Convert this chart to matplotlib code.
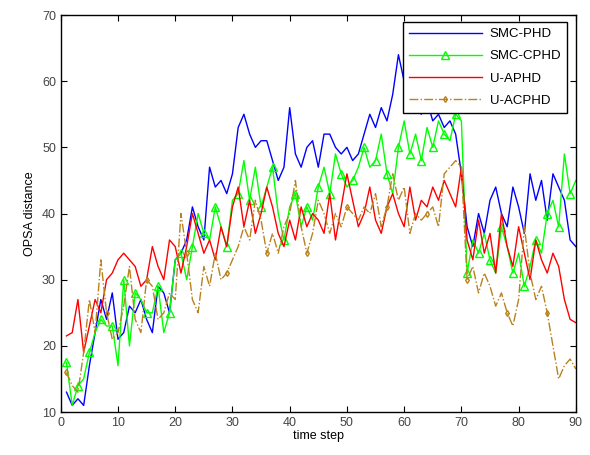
import numpy as np
import matplotlib
matplotlib.use("Agg")
import matplotlib.pyplot as plt

plt.rcParams['font.family'] = ['Liberation Sans', 'DejaVu Sans']

# time steps 1..90
t = np.arange(1, 91)

smc_phd = [13, 11, 12, 11, 17, 22, 27, 24, 28, 21,
           22, 26, 25, 27, 24, 22, 29, 28, 25, 33,
           34, 36, 41, 38, 36, 47, 44, 45, 43, 46,
           53, 55, 52, 50, 51, 51, 48, 45, 47, 56,
           49, 47, 50, 51, 47, 52, 52, 50, 49, 50,
           48, 49, 52, 55, 53, 56, 54, 58, 64, 60,
           58, 56, 55, 57, 54, 55, 53, 54, 52, 46,
           38, 35, 40, 37, 42, 44, 40, 38, 44, 41,
           37, 46, 42, 45, 39, 46, 44, 42, 36, 35]

smc_cphd = [17.5, 11, 14, 15, 19, 22, 24, 23, 23, 17,
            30, 20, 28, 27, 25, 25, 29, 22, 25, 33,
            34, 30, 35, 40, 37, 36, 41, 38, 35, 42,
            43, 48, 42, 47, 41, 44, 47, 40, 36, 41,
            43, 38, 41, 39, 44, 47, 43, 49, 46, 44,
            45, 47, 50, 47, 48, 52, 46, 43, 50, 54,
            49, 52, 48, 53, 50, 54, 52, 51, 55, 54,
            31, 36, 34, 37, 33, 31, 38, 35, 31, 34,
            29, 32, 36, 34, 40, 42, 38, 49, 43, 45]

ua_phd = [21.5, 22, 27, 19, 23, 27, 25, 30, 31, 33,
          34, 33, 32, 29, 30, 35, 32, 30, 36, 35,
          31, 35, 40, 37, 34, 36, 33, 38, 35, 41,
          44, 38, 42, 37, 40, 44, 41, 37, 35, 39,
          36, 41, 38, 40, 39, 37, 43, 36, 41, 46,
          42, 38, 40, 44, 39, 37, 41, 43, 40, 38,
          44, 39, 42, 41, 44, 42, 45, 43, 41, 47,
          36, 33, 39, 34, 37, 31, 40, 35, 32, 38,
          34, 30, 36, 33, 31, 34, 32, 27, 24, 23.5]

ua_cphd = [16, 14, 13, 19, 27, 22, 33, 25, 21, 22,
           26, 32, 24, 22, 30, 29, 24, 25, 28, 27,
           40, 34, 27, 25, 32, 29, 34, 30, 31, 33,
           35, 38, 36, 42, 39, 34, 37, 34, 38, 40,
           45, 38, 34, 37, 42, 40, 37, 40, 38, 41,
           40, 39, 41, 40, 43, 38, 41, 46, 42, 44,
           37, 40, 39, 40, 41, 38, 46, 47, 48, 47,
           30, 32, 28, 31, 29, 26, 28, 25, 23, 27,
           38, 31, 27, 29, 25, 20, 15, 17, 18, 16.5]

labels = ["SMC-PHD", "SMC-CPHD", "U-APHD", "U-ACPHD"]

fig = plt.figure(figsize=(5.9, 4.55), dpi=100)
ax = fig.add_axes([0.103, 0.0945, 0.873, 0.8725])

ax.plot(t, smc_phd, color='#0000ff', lw=1, label=labels[0])
ax.plot(t, smc_cphd, color='#00ff00', lw=1, marker='^', ms=5.5,
        mfc='none', mec='#00ff00', markevery=2, label=labels[1])
ax.plot(t, ua_phd, color='#ff0000', lw=1, label=labels[2])
ax.plot(t, ua_cphd, color='#b8821e', lw=1, ls='-.', marker='d', ms=3,
        mfc='none', markevery=7, label=labels[3])

ax.set_xlim(0, 90)
ax.set_ylim(10, 70)
ax.set_xticks(np.arange(0, 91, 10))
ax.set_yticks(np.arange(10, 71, 10))
ax.tick_params(direction='in', top=True, right=True, labelsize=9,
               labelcolor='#444444', length=4)
for s in ax.spines.values():
    s.set_linewidth(1)

ax.set_xlabel("time step", fontsize=9, labelpad=1)
ax.set_ylabel("OPSA distance", fontsize=9, labelpad=4)

leg = ax.legend(loc='upper right', bbox_to_anchor=(0.983, 0.982),
                fancybox=False, edgecolor='black', framealpha=1,
                fontsize=9.5, handlelength=5.5, borderaxespad=0,
                labelspacing=0.75, borderpad=0.45, handletextpad=0.6)
leg.get_frame().set_linewidth(1)

fig.savefig("out.png", dpi=100)
